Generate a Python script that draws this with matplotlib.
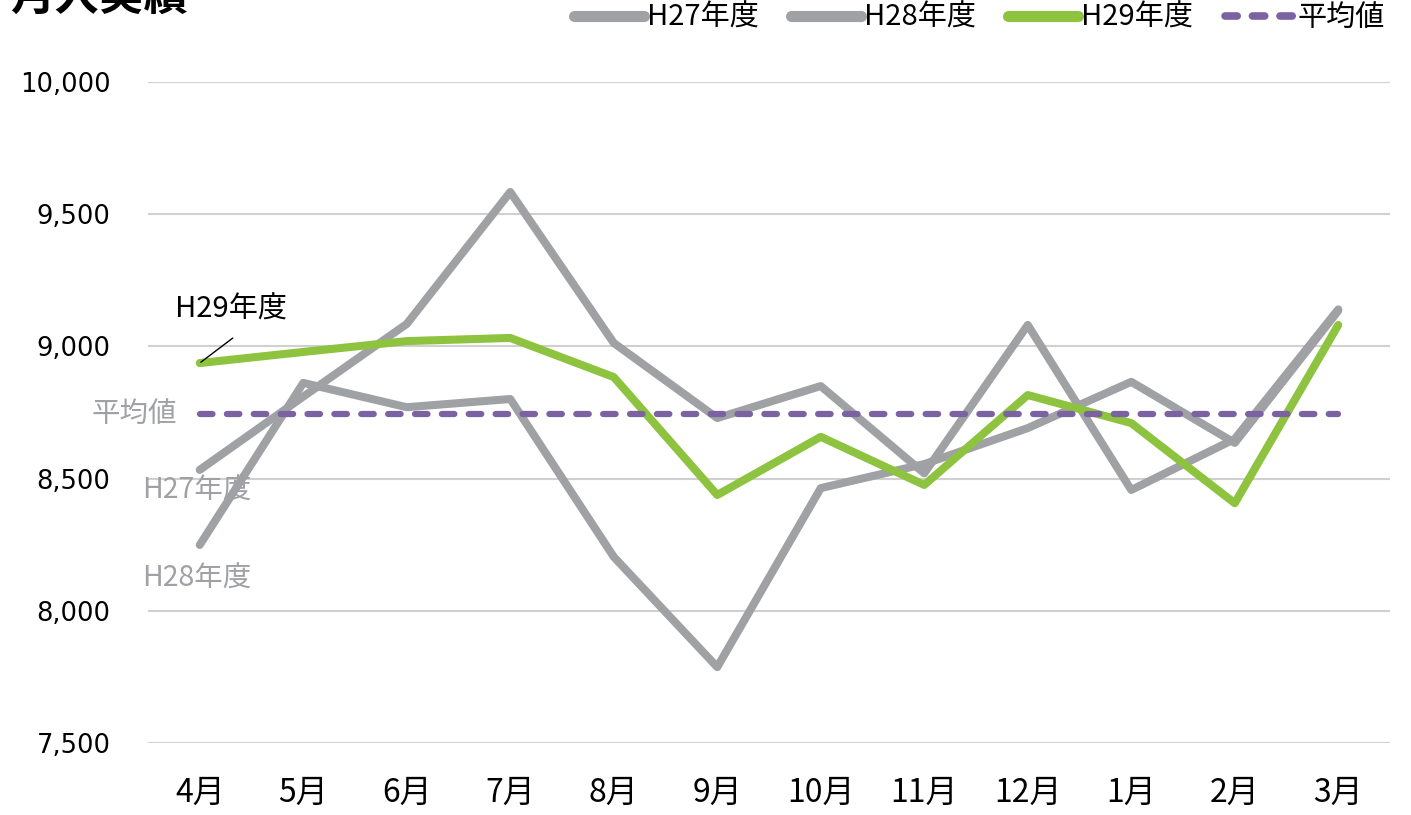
import matplotlib
matplotlib.use("Agg")
import matplotlib.pyplot as plt
from matplotlib.lines import Line2D

plt.rcParams['font.family'] = ['Noto Sans CJK JP', 'DejaVu Sans']

# ─────────────────────────────────────────────
#  data
# ─────────────────────────────────────────────
MONTHS = ["4月", "5月", "6月", "7月", "8月", "9月", "10月", "11月", "12月", "1月", "2月", "3月"]
H27 = [8533, 8810, 9085, 9584, 9013, 8729, 8850, 8520, 9081, 8457, 8650, 9140]
H28 = [8249, 8862, 8770, 8801, 8204, 7787, 8464, 8555, 8691, 8866, 8635, 9135]
H29 = [8937, 8979, 9020, 9032, 8884, 8438, 8658, 8476, 8816, 8710, 8407, 9081]
AVERAGE = 8744
SERIES_NAMES = ["H27年度", "H28年度", "H29年度", "平均値"]
Y_TICKS = [7500, 8000, 8500, 9000, 9500, 10000]
TITLE = "月入実績"

GRAY = "#A0A1A5"
GREEN = "#8DC33E"
PURPLE = "#7A63A0"
DASH = (0, (2.0, 2.3))

fig = plt.figure(figsize=(14.11, 8.15), dpi=100)
ax = fig.add_axes([148 / 1411, 1 - 743 / 815, (1390 - 148) / 1411, (743 - 82) / 815])

x = list(range(len(MONTHS)))
lw = 5.8
ax.plot(x, H27, color=GRAY, lw=lw, solid_capstyle="round", zorder=3)
ax.plot(x, H28, color=GRAY, lw=lw, solid_capstyle="round", zorder=3)
ax.plot(x, H29, color=GREEN, lw=lw, solid_capstyle="round", zorder=4)
ax.plot([x[0], x[-1]], [AVERAGE, AVERAGE], color=PURPLE, lw=4.5,
        linestyle=DASH, dash_capstyle="round", zorder=5)

ax.set_xlim(-0.5, len(MONTHS) - 0.5)
ax.set_ylim(Y_TICKS[0], Y_TICKS[-1])
ax.set_xticks(x)
ax.set_xticklabels(MONTHS, fontsize=23)
ax.set_yticks(Y_TICKS)
ax.set_yticklabels([f"{v:,}" for v in Y_TICKS], fontsize=18.5, family="DejaVu Sans")
ax.tick_params(length=0)
ax.tick_params(axis="x", pad=24)
ax.tick_params(axis="y", pad=27)
ax.grid(axis="y", color="#D0D0D0", lw=1.5)
ax.set_axisbelow(True)
for s in ax.spines.values():
    s.set_visible(False)

# series labels on the left (H29 has a leader line to its first point)
ax.annotate("", xy=(0, H29[0]), xytext=(33, 25), textcoords="offset pixels",
            arrowprops=dict(arrowstyle="-", color="black", lw=1, shrinkA=0, shrinkB=1), zorder=6)
ax.text(0.3, 9140, SERIES_NAMES[2], fontsize=21, ha="center", va="center", color="black")
ax.text(-0.22, AVERAGE, SERIES_NAMES[3], fontsize=20.5, ha="right", va="center", color=GRAY)
ax.text(-0.03, 8455, SERIES_NAMES[0], fontsize=20.5, ha="center", va="center", color=GRAY)
ax.text(-0.03, 8122, SERIES_NAMES[1], fontsize=20.5, ha="center", va="center", color=GRAY)

handles = [
    Line2D([], [], color=GRAY, lw=8, solid_capstyle="round"),
    Line2D([], [], color=GRAY, lw=8, solid_capstyle="round"),
    Line2D([], [], color=GREEN, lw=8, solid_capstyle="round"),
    Line2D([], [], color=PURPLE, lw=5.5, linestyle=(0, (1.6, 2.0)), dash_capstyle="round"),
]
fig.legend(handles=handles, labels=SERIES_NAMES, loc="center right",
           bbox_to_anchor=(1385 / 1411, 1 - 18 / 815),
           ncol=4, frameon=False, fontsize=21, handlelength=2.4, handletextpad=0.1,
           columnspacing=1.1, borderaxespad=0, borderpad=0)

fig.text(10 / 1411, 1 - 10 / 815, TITLE, fontsize=32, fontweight="bold", va="baseline", ha="left")

fig.savefig("out.png", dpi=100)
